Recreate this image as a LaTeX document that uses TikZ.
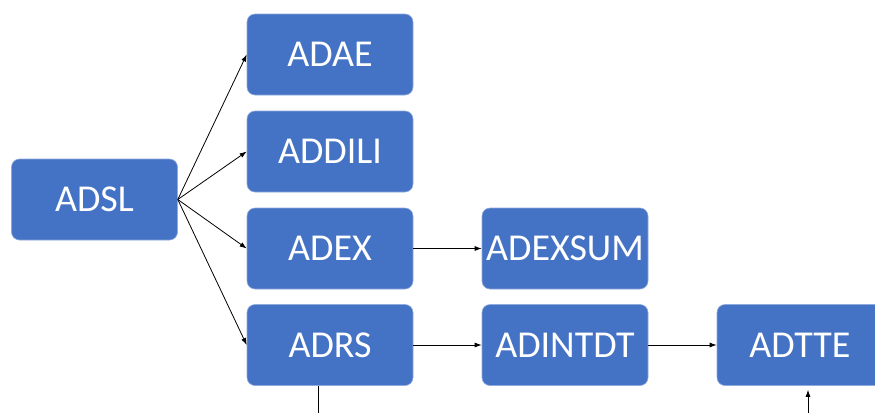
\documentclass[tikz,border=0pt]{standalone}
\usepackage{fontspec}
\setmainfont{Carlito}
\usetikzlibrary{arrows.meta}
\definecolor{boxblue}{HTML}{4472C4}
\tikzset{
  dsbox/.style={fill=boxblue, draw=boxblue!60!white, line width=0.6pt, rounded corners=8pt,
    minimum width=166pt, minimum height=81pt, inner sep=0pt,
    text=white, font=\fontsize{38}{42}\selectfont},
  link/.style={draw=black, line width=0.8pt, -{Latex[length=7pt,width=5pt]}},
  plain/.style={draw=black, line width=0.8pt}
}
\begin{document}
\begin{tikzpicture}[x=1pt, y=-1pt]
  \useasboundingbox (0,0) rectangle (875,413);
  \clip (0,0) rectangle (875,413);

  % datasets
  \node[dsbox] (ADSL)    at (94.5,199.5) {ADSL};
  \node[dsbox] (ADAE)    at (330,54.5)   {ADAE};
  \node[dsbox] (ADDILI)  at (330,151.5)  {ADDILI};
  \node[dsbox] (ADEX)    at (330,248.5)  {ADEX};
  \node[dsbox] (ADRS)    at (330,345)    {ADRS};
  \node[dsbox] (ADEXSUM) at (565,248.5)  {ADEXSUM};
  \node[dsbox] (ADINTDT) at (565,345)    {ADINTDT};
  \node[dsbox] (ADTTE)   at (800,345)    {ADTTE};

  % fan-out from the subject-level dataset
  \draw[link] (ADSL.east) -- (ADAE.west);
  \draw[link] (ADSL.east) -- (ADDILI.west);
  \draw[link] (ADSL.east) -- (ADEX.west);
  \draw[link] (ADSL.east) -- (ADRS.west);

  % derived chains
  \draw[link] (ADEX) -- (ADEXSUM);
  \draw[link] (ADRS) -- (ADINTDT);
  \draw[link] (ADINTDT) -- (ADTTE);

  % connectors leaving and entering from below
  \coordinate (rsdown) at (318,413);
  \coordinate (tteup) at (808,413);
  \draw[plain] (ADRS.south -| rsdown) -- (rsdown);
  \draw[link, shorten >=4pt] (tteup) -- (ADTTE.south -| tteup);
\end{tikzpicture}
\end{document}
